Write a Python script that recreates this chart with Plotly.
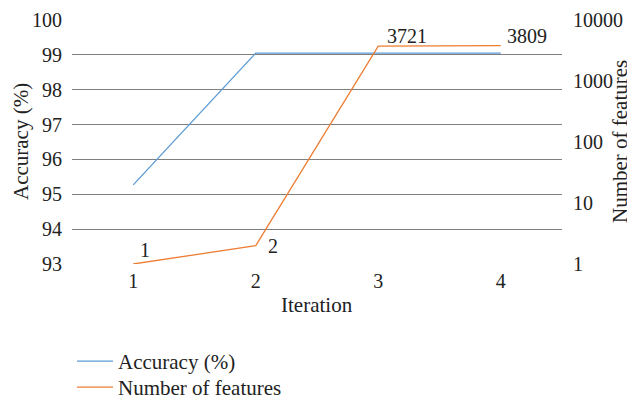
import math
import plotly.graph_objects as go

iterations = [1, 2, 3, 4]
accuracy = [95.27, 99.05, 99.05, 99.05]
num_features = [1, 2, 3721, 3809]
feature_labels = ["1", "2", "3721", "3809"]

FONT = "Liberation Serif"
BLUE = "#5b9bd5"
ORANGE = "#ed7d31"
TXT = "#222222"
FS_TICK = 20
FS_TITLE = 21

fig = go.Figure()
fig.add_trace(go.Scatter(x=iterations, y=accuracy, mode="lines", name="Accuracy (%)",
                         line=dict(color=BLUE, width=1.3), yaxis="y", legend="legend"))
fig.add_trace(go.Scatter(x=iterations, y=num_features, mode="lines", name="Number of features",
                         line=dict(color=ORANGE, width=1.3), yaxis="y2", legend="legend2"))

shifts = [(12, 14), (17, 0), (29, 10), (26, 10)]
for xi, v, lab, (dx, dy) in zip(iterations, num_features, feature_labels, shifts):
    fig.add_annotation(x=xi, y=math.log10(v), xref="x", yref="y2", text=lab,
                       showarrow=False, xshift=dx, yshift=dy,
                       font=dict(family=FONT, size=FS_TICK, color=TXT))

# axis titles as annotations for precise placement
fig.add_annotation(x=-0.104, y=0.5, xref="paper", yref="paper", text="Accuracy (%)",
                   textangle=-90, showarrow=False, xanchor="center", yanchor="middle",
                   font=dict(family=FONT, size=FS_TITLE, color=TXT))
fig.add_annotation(x=1.1184, y=0.5, xref="paper", yref="paper", text="Number of features",
                   textangle=-90, showarrow=False, xanchor="center", yanchor="middle",
                   font=dict(family=FONT, size=FS_TITLE, color=TXT))
fig.add_annotation(x=0.5, y=-0.168, xref="paper", yref="paper", text="Iteration",
                   showarrow=False, xanchor="center", yanchor="middle",
                   font=dict(family=FONT, size=FS_TITLE, color=TXT))

legend_common = dict(xanchor="left", yanchor="top", orientation="v",
                     font=dict(family=FONT, size=FS_TITLE, color=TXT),
                     itemwidth=36, bgcolor="rgba(0,0,0,0)")

fig.update_layout(
    width=627, height=394,
    margin=dict(l=64, r=73, t=12, b=138, autoexpand=False),
    paper_bgcolor="white", plot_bgcolor="white",
    font=dict(family=FONT, size=FS_TICK, color=TXT),
    showlegend=True,
    legend=dict(x=0.0, y=-0.3156, **legend_common),
    legend2=dict(x=0.0, y=-0.4221, **legend_common),
    xaxis=dict(range=[0.5, 4.5], tickvals=iterations, showgrid=False, zeroline=False,
               showline=False, ticks="", automargin=False, ticklabelstandoff=3,
               tickfont=dict(family=FONT, size=FS_TICK, color=TXT)),
    yaxis=dict(range=[93, 100], dtick=1, showgrid=True, gridcolor="#7f7f7f", gridwidth=1.2,
               zeroline=False, showline=False, ticks="", automargin=False, ticklabelstandoff=9,
               ticklabeloverflow="allow",
               tickfont=dict(family=FONT, size=FS_TICK, color=TXT)),
    yaxis2=dict(type="log", range=[0, 4], overlaying="y", side="right",
                tickvals=[1, 10, 100, 1000, 10000], ticktext=["1", "10", "100", "1000", "10000"],
                showgrid=False, zeroline=False, showline=False, ticks="", automargin=False,
                ticklabelstandoff=10, ticklabeloverflow="allow",
                tickfont=dict(family=FONT, size=FS_TICK, color=TXT)),
)

fig.write_html("out.html")
